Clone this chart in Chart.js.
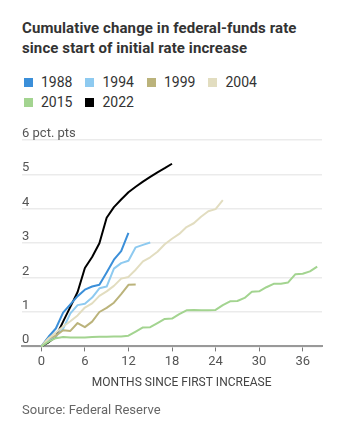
<!DOCTYPE html>
<html><head><meta charset="utf-8">
<script src="https://cdn.jsdelivr.net/npm/chart.js@4"></script>
<style>
html,body{margin:0;padding:0;background:#fff;}
#wrap{position:relative;width:338px;height:433px;overflow:hidden;font-family:Roboto,"Noto Sans",sans-serif;}
#title{position:absolute;left:22px;top:18px;font-weight:700;font-size:15px;letter-spacing:0.1px;line-height:20px;color:#333;}
#legend{position:absolute;left:24px;top:72px;width:300px;display:flex;flex-wrap:wrap;font-size:14px;line-height:20px;color:#333;}
.item{display:flex;align-items:center;margin-right:13px;}
.box{width:9px;height:9px;margin-right:8px;}
#source{position:absolute;left:22px;top:401px;font-size:13px;line-height:18px;color:#666;}
canvas{position:absolute;left:0;top:0;}
</style></head>
<body><div id="wrap">
<div id="title">Cumulative change in federal-funds rate<br>since start of initial rate increase</div>
<div id="legend"></div>
<canvas id="c" width="338" height="433"></canvas>
<div id="source">Source: Federal Reserve</div>
</div>
<script>
const seriesNames = ["1988","1994","1999","2004","2015","2022"];
const seriesColors = ["#3b8fd9","#8ecaf0","#bbb37b","#e2ddc0","#a3d490","#000000"];
const r1988 = [0,0.28,0.52,0.98,1.22,1.46,1.65,1.74,1.79,2.15,2.52,2.77,3.30];
const r1994 = [0,0.20,0.29,0.51,0.96,1.20,1.24,1.42,1.69,1.74,2.26,2.42,2.49,2.88,2.95,3.02];
const r1999 = [0,0.23,0.31,0.47,0.45,0.68,0.56,0.72,1.00,1.12,1.27,1.52,1.79,1.80];
const r2004 = [0,0.23,0.40,0.58,0.73,0.90,1.13,1.25,1.47,1.60,1.76,1.97,2.02,2.23,2.47,2.59,2.75,2.97,3.13,3.27,3.47,3.58,3.77,3.93,3.99,4.25];
const r2015 = [0,0.14,0.24,0.27,0.26,0.26,0.26,0.27,0.28,0.28,0.29,0.29,0.31,0.43,0.55,0.56,0.68,0.80,0.81,0.94,1.05,1.06,1.05,1.05,1.06,1.20,1.31,1.32,1.41,1.59,1.60,1.72,1.82,1.82,1.86,2.10,2.11,2.18,2.32];
const r2022 = [0,0.12,0.28,0.72,1.15,1.58,2.28,2.60,3.00,3.74,4.05,4.27,4.48,4.64,4.79,4.93,5.06,5.18,5.31];
const xTicks = [0,6,12,18,24,30,36];
const yTicks = [0,1,2,3,4,5,6];
const yTickLabels = ["0","1","2","3","4","5","6 pct. pts"];
const xTitle = "MONTHS SINCE FIRST INCREASE";

const values = [r1988,r1994,r1999,r2004,r2015,r2022];

// legend
const lg = document.getElementById('legend');
seriesNames.forEach((n,i)=>{
  const it=document.createElement('div');it.className='item';
  const b=document.createElement('span');b.className='box';b.style.background=seriesColors[i];
  const t=document.createElement('span');t.textContent=n;
  it.appendChild(b);it.appendChild(t);lg.appendChild(it);
});

// draw order: bottom to top
const order = [4,3,2,1,0,5];
const datasets = order.map(i=>({
  label: seriesNames[i],
  data: values[i].map((v,m)=>({x:m,y:v})),
  borderColor: seriesColors[i],
  backgroundColor: seriesColors[i],
  borderWidth: 2,
  pointRadius: 0,
  tension: 0,
  borderJoinStyle: 'round',
  borderCapStyle: 'butt',
  clip: false
}));

const overlay = {
  id:'overlay',
  afterDraw(chart){
    const ctx=chart.ctx, y=chart.scales.y, x=chart.scales.x, ca=chart.chartArea;
    ctx.save();
    ctx.font='13px Roboto, "Noto Sans", sans-serif';
    ctx.fillStyle='#555';
    ctx.textAlign='left';ctx.textBaseline='alphabetic';
    yTicks.forEach((v,i)=>{
      ctx.fillText(yTickLabels[i], ca.left, y.getPixelForValue(v)-3);
    });
    ctx.font='12px Roboto, "Noto Sans", sans-serif';
    ctx.fillStyle='#444';
    ctx.textAlign='center';ctx.textBaseline='middle';
    const cx=(x.getPixelForValue(0)+ca.right)/2;
    ctx.fillText(xTitle, cx, 383);
    ctx.restore();
  }
};

new Chart(document.getElementById('c'),{
  type:'line',
  data:{datasets},
  options:{
    responsive:false,animation:false,
    layout:{padding:{left:22,right:16,top:140,bottom:60}},
    plugins:{legend:{display:false},tooltip:{enabled:false}},
    scales:{
      x:{type:'linear',min:-2.66,max:38.66,
        afterBuildTicks:s=>{s.ticks=xTicks.map(v=>({value:v}));},
        grid:{drawOnChartArea:false,drawTicks:true,tickLength:5,tickColor:'#777',tickWidth:1},
        border:{display:true,color:'#999',width:2},
        ticks:{color:'#555',font:{family:'Roboto',size:13},padding:3,maxRotation:0}
      },
      y:{type:'linear',min:0,max:6,
        afterBuildTicks:s=>{s.ticks=yTicks.map(v=>({value:v}));},
        grid:{color:'#ebebeb',lineWidth:1.5,drawTicks:false},
        border:{display:false},
        ticks:{display:false}
      }
    }
  },
  plugins:[overlay]
});
</script>
</body></html>
